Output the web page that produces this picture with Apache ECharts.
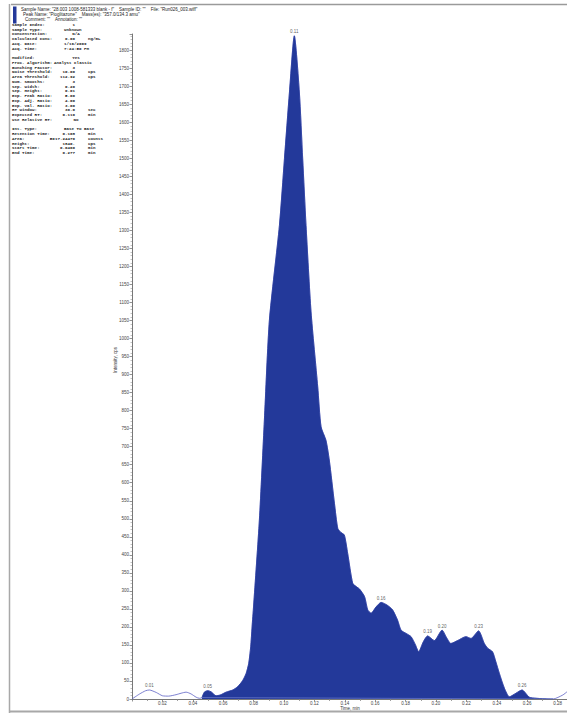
<!DOCTYPE html>
<html>
<head>
<meta charset="utf-8">
<script src="https://cdn.jsdelivr.net/npm/echarts@6/dist/echarts.min.js"></script>
<style>
  html, body { margin: 0; padding: 0; background: #fff; }
  #chart { width: 567px; height: 713px; }
</style>
</head>
<body>
<div id="chart"></div>
<script>
// XIC trace: retention time (min) and intensity (cps)
const times = [
  0.0000, 0.0050, 0.0090, 0.0114, 0.0160, 0.0200, 0.0240, 0.0290, 0.0323, 0.0356,
  0.0389, 0.0422, 0.0443, 0.0460, 0.0476, 0.0498, 0.0520, 0.0553, 0.0580, 0.0619,
  0.0663, 0.0695, 0.0728, 0.0751, 0.0768, 0.0781, 0.0790, 0.0800, 0.0838, 0.0871,
  0.0904, 0.0970, 0.1003, 0.1036, 0.1068, 0.1101, 0.1123, 0.1145, 0.1178, 0.1222,
  0.1244, 0.1276, 0.1298, 0.1332, 0.1354, 0.1375, 0.1397, 0.1419, 0.1452, 0.1475,
  0.1497, 0.1530, 0.1551, 0.1573, 0.1605, 0.1639, 0.1680, 0.1715, 0.1747, 0.1770,
  0.1803, 0.1836, 0.1865, 0.1886, 0.1917, 0.1945, 0.1989, 0.2040, 0.2066, 0.2098,
  0.2142, 0.2197, 0.2230, 0.2280, 0.2318, 0.2340, 0.2372, 0.2394, 0.2417, 0.2450,
  0.2483, 0.2526, 0.2566, 0.2614, 0.2660, 0.2700, 0.2770, 0.2834, 0.2862
];
const intensities = [
  0, 14, 23, 25, 18, 9, 8, 12, 16, 19,
  14, 5, 2, 4, 19, 23, 20, 9, 11, 19,
  25, 34, 51, 71, 99, 145, 200, 258, 496, 774,
  1051, 1314, 1499, 1684, 1840, 1684, 1499, 1314, 1074, 866,
  755, 718, 663, 543, 473, 462, 455, 404, 321, 312,
  305, 284, 247, 238, 255, 268, 260, 247, 219, 191,
  182, 173, 150, 131, 159, 175, 162, 191, 173, 154,
  162, 173, 168, 189, 154, 141, 131, 103, 71, 30,
  6, 16, 25, 5, 2, 1, 0, 11, 20
];

// Apex times of the labelled peaks
const peakTimes = [0.0114, 0.0498, 0.1068, 0.1639, 0.1945, 0.2040, 0.2280, 0.2566];

// Integration window (Base To Base)
const startTime = 0.0460;
const endTime = 0.277;
const baselineLevels = [4, 0];

// Header lines
const headerLines = [
  'Sample Name: "28.003 1008-581333 blank - f"    Sample ID: ""    File: "Run026_003.wiff"',
  'Peak Name: "Pioglitazone"    Mass(es): "357.0/134.3 amu"',
  'Comment: ""    Annotation: ""'
];

// Processing report rows: label, value, unit (null = blank row)
const infoRows = [
  ['Sample Index:', '1', ''],
  ['Sample Type:', 'Unknown', ''],
  ['Concentration:', 'N/A', ''],
  ['Calculated Conc:', '0.00', 'ng/mL'],
  ['Acq. Date:', '1/16/2009', ''],
  ['Acq. Time:', '7:24:50 PM', ''],
  null,
  ['Modified:', 'Yes', ''],
  ['Proc. Algorithm:', 'Analyst Classic', ''],
  ['Bunching Factor:', '3', ''],
  ['Noise Threshold:', '10.00', 'cps'],
  ['Area Threshold:', '112.92', 'cps'],
  ['Num. Smooths:', '3', ''],
  ['Sep. Width:', '0.20', ''],
  ['Sep. Height:', '0.01', ''],
  ['Exp. Peak Ratio:', '5.00', ''],
  ['Exp. Adj. Ratio:', '4.00', ''],
  ['Exp. Val. Ratio:', '3.00', ''],
  ['RT Window:', '30.0', 'sec'],
  ['Expected RT:', '0.110', 'min'],
  ['Use Relative RT:', 'No', ''],
  null,
  ['Int. Type:', 'Base To Base', ''],
  ['Retention Time:', '0.108', 'min'],
  ['Area:', '5017.24470', 'counts'],
  ['Height:', '1840.', 'cps'],
  ['Start Time:', '0.0460', 'min'],
  ['End Time:', '0.277', 'min']
];

const X_MAX = 0.2862;
const Y_MAX = 1845;
const X_STEP = 0.02;
const Y_STEP = 50;
const Y_LAST_LABEL = 1800;

// ---- build series data ----
const trace = times.map((t, i) => [t, intensities[i]]);
const integrated = trace.filter(p => p[0] >= startTime - 1e-9 && p[0] <= endTime + 1e-9);
const baseline = [[startTime, baselineLevels[0]], [endTime, baselineLevels[1]]];
const apexes = peakTimes.map(t => {
  const i = times.findIndex(v => Math.abs(v - t) < 1e-9);
  return [times[i], intensities[i]];
});

const SANS = '"Liberation Sans", Arial, sans-serif';
const MONO = '"Liberation Mono", "Courier New", monospace';
const REPORT_FONT = 'bold 4.2px ' + MONO;

// ---- page furniture: frame, header and report text ----
const graphics = [];
graphics.push({ type: 'line', shape: { x1: 11, y1: 4.5, x2: 567, y2: 4.5 }, style: { stroke: '#9a9a9a', lineWidth: 1.5 }, silent: true });
graphics.push({ type: 'line', shape: { x1: 9.5, y1: 4, x2: 9.5, y2: 713 }, style: { stroke: '#a8a8a8', lineWidth: 1.5 }, silent: true });
graphics.push({ type: 'line', shape: { x1: 9, y1: 711.5, x2: 567, y2: 711.5 }, style: { stroke: '#a8a8a8', lineWidth: 2 }, silent: true });
graphics.push({ type: 'rect', shape: { x: 13, y: 6.5, width: 3.5, height: 17 }, style: { fill: '#24399a' }, silent: true });

const headerX = [21, 23, 25];
headerLines.forEach((txt, i) => {
  graphics.push({
    type: 'text', x: headerX[i], y: 9 + i * 5,
    style: { text: txt, font: '4.5px ' + SANS, fill: '#222', textVerticalAlign: 'middle' },
    silent: true
  });
});

let rowY = 25;
infoRows.forEach(row => {
  if (row) {
    const [label, value, unit] = row;
    graphics.push({
      type: 'text', x: 12, y: rowY,
      style: { text: label, font: REPORT_FONT, fill: '#222', textVerticalAlign: 'middle' },
      silent: true
    });
    let vx = 64, align = 'left';
    if (/^[\d.]+$/.test(value)) { vx = 75; align = 'right'; }
    else if (value.length <= 3) { vx = 76; align = 'center'; }
    else if (value.length > 12) { vx = 54; align = 'left'; }
    graphics.push({
      type: 'text', x: vx, y: rowY,
      style: { text: value, font: REPORT_FONT, fill: '#222', textAlign: align, textVerticalAlign: 'middle' },
      silent: true
    });
    if (unit) {
      graphics.push({
        type: 'text', x: 88, y: rowY,
        style: { text: unit, font: REPORT_FONT, fill: '#222', textVerticalAlign: 'middle' },
        silent: true
      });
    }
  }
  rowY += 4.74;
});

// axis titles
graphics.push({
  type: 'text', x: 350, y: 708,
  style: { text: 'Time, min', font: '4.5px ' + SANS, fill: '#333', textAlign: 'center', textVerticalAlign: 'middle' },
  silent: true
});
graphics.push({
  type: 'text', x: 115, y: 360, rotation: Math.PI / 2,
  style: { text: 'Intensity, cps', font: '4.5px ' + SANS, fill: '#333', textAlign: 'center', textVerticalAlign: 'middle' },
  silent: true
});

const chart = echarts.init(document.getElementById('chart'), null, { renderer: 'svg' });

const isStep = (v, step) => Math.abs(v / step - Math.round(v / step)) < 1e-6;

chart.setOption({
  animation: false,
  backgroundColor: '#fff',
  grid: { left: 132, right: 0, top: 34, bottom: 14, containLabel: false, outerBoundsMode: 'none' },
  xAxis: {
    type: 'value', min: 0, max: X_MAX, interval: X_STEP,
    axisLine: { show: true, lineStyle: { color: '#777', width: 1 } },
    axisTick: { show: true, length: 2.5, lineStyle: { color: '#777', width: 0.8 } },
    minorTick: { show: true, splitNumber: 2, length: 2, lineStyle: { color: '#888', width: 0.8 } },
    splitLine: { show: false },
    axisLabel: {
      fontSize: 4.5, fontFamily: SANS, color: '#444', margin: 2,
      formatter: v => (v < 1e-6 || !isStep(v, X_STEP)) ? '' : v.toFixed(2)
    }
  },
  yAxis: {
    type: 'value', min: 0, max: Y_MAX, interval: Y_STEP,
    axisLine: { show: true, lineStyle: { color: '#777', width: 1 } },
    axisTick: { show: true, length: 2.5, lineStyle: { color: '#777', width: 0.8 } },
    minorTick: { show: true, splitNumber: 5, length: 1.5, lineStyle: { color: '#999', width: 0.6 } },
    splitLine: { show: false },
    axisLabel: {
      fontSize: 4.5, fontFamily: SANS, color: '#444', margin: 3,
      formatter: v => (v > Y_LAST_LABEL || !isStep(v, Y_STEP)) ? '' : String(v)
    }
  },
  graphic: graphics,
  series: [
    {
      type: 'line', data: trace, smooth: 0.22, symbol: 'none', z: 2,
      lineStyle: { color: '#5b5fc4', width: 0.8 }
    },
    {
      type: 'line', data: integrated, smooth: 0.22, symbol: 'none', z: 3,
      lineStyle: { color: '#23399a', width: 0.6 },
      areaStyle: { color: '#23399a', opacity: 1 }
    },
    {
      type: 'line', data: baseline, symbol: 'none', z: 4,
      lineStyle: { color: '#7a88d6', width: 0.6 }
    },
    {
      type: 'scatter', data: apexes, symbolSize: 0, z: 5,
      label: {
        show: true, position: 'top', distance: 1.5,
        fontSize: 4.5, fontFamily: SANS, color: '#333',
        formatter: p => p.value[0].toFixed(2)
      }
    }
  ]
});
</script>
</body>
</html>
